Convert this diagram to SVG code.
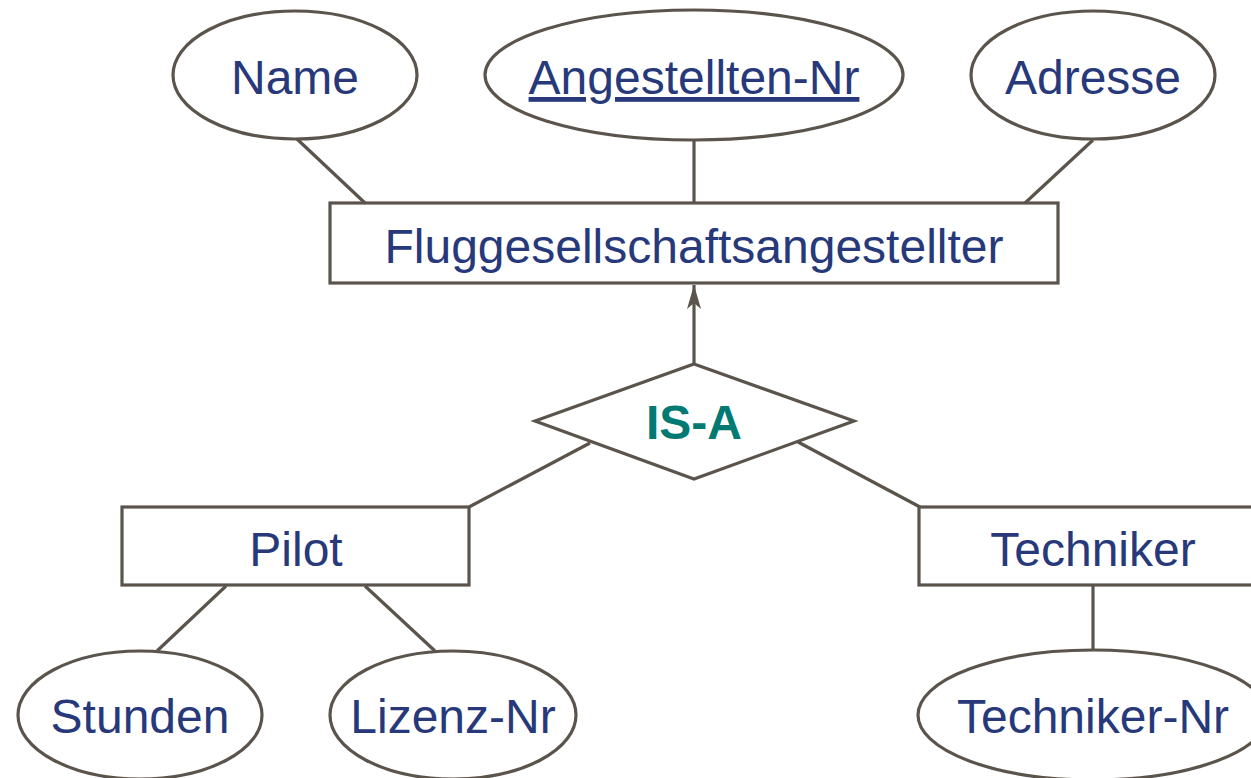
<svg xmlns="http://www.w3.org/2000/svg" width="1251" height="778" viewBox="0 0 1251 778">
<style>
.s{fill:#fff;stroke:#5b544c;stroke-width:3.2}
.l{stroke:#5b544c;stroke-width:3.2;fill:none}
.t{font-family:"Liberation Sans",Arial,sans-serif;font-size:48px;fill:#27397a;text-anchor:middle}
.b{font-family:"Liberation Sans",Arial,sans-serif;font-size:48px;font-weight:bold;fill:#007a73;text-anchor:middle}
</style>
<defs>
<marker id="ah" viewBox="0 0 24 16" refX="24" refY="8" markerWidth="24" markerHeight="16" markerUnits="userSpaceOnUse" orient="auto">
<path d="M0,1 L24,8 L0,15 L6,8 Z" fill="#5b544c"/>
</marker>
</defs>
<rect width="1251" height="778" fill="#fff"/>
<g id="connectors">
<line class="l" x1="297" y1="139" x2="365" y2="203"/>
<line class="l" x1="694" y1="140" x2="694" y2="203"/>
<line class="l" x1="1093" y1="140" x2="1025" y2="203"/>
<line class="l" x1="694" y1="364" x2="694" y2="285" marker-end="url(#ah)"/>
<line class="l" x1="590" y1="443" x2="469" y2="507"/>
<line class="l" x1="798" y1="442" x2="920" y2="507"/>
<line class="l" x1="226" y1="586" x2="157" y2="651"/>
<line class="l" x1="365" y1="586" x2="435" y2="651"/>
<line class="l" x1="1093" y1="586" x2="1093" y2="650"/>
</g>
<g id="name"><ellipse class="s" cx="295" cy="75" rx="122" ry="64"/><text class="t" x="295" y="94">Name</text></g>
<g id="angestelltennr"><ellipse class="s" cx="694" cy="75" rx="209" ry="65"/><text class="t" x="694" y="94" text-decoration="underline">Angestellten-Nr</text></g>
<g id="adresse"><ellipse class="s" cx="1093" cy="75" rx="122" ry="64"/><text class="t" x="1093" y="94">Adresse</text></g>
<g id="fluggesellschaftsangestellter"><rect class="s" x="330" y="203" width="728" height="80"/><text class="t" x="694" y="263">Fluggesellschaftsangestellter</text></g>
<g id="isa"><polygon class="s" points="694,364 854,421 694,479 535,421"/><text class="b" x="694" y="439">IS-A</text></g>
<g id="pilot"><rect class="s" x="122" y="507" width="347" height="78"/><text class="t" x="296" y="566">Pilot</text></g>
<g id="techniker"><rect class="s" x="919" y="507" width="348" height="78"/><text class="t" x="1093" y="566">Techniker</text></g>
<g id="stunden"><ellipse class="s" cx="140" cy="715" rx="122" ry="64"/><text class="t" x="140" y="733">Stunden</text></g>
<g id="lizenznr"><ellipse class="s" cx="453" cy="715" rx="123" ry="64"/><text class="t" x="453" y="733">Lizenz-Nr</text></g>
<g id="technikernr"><ellipse class="s" cx="1093" cy="715" rx="175" ry="65"/><text class="t" x="1093" y="733">Techniker-Nr</text></g>
</svg>
